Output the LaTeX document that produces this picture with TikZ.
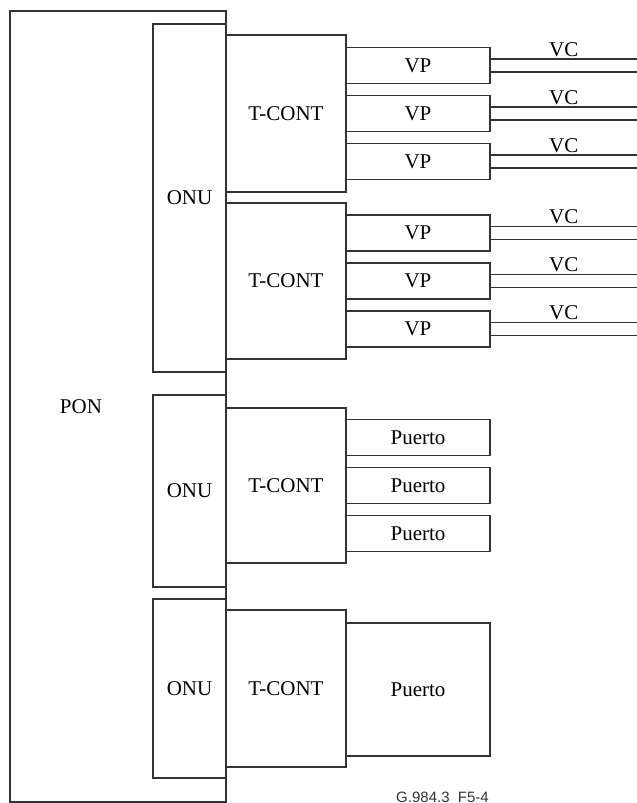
\documentclass[tikz,border=0pt]{standalone}
\usepackage{fontspec}
\setmainfont{Liberation Serif}
\newfontfamily\refsans{Liberation Sans}
\tikzset{
	box/.style={draw=black!80,fill=white,line width=1.2pt,inner sep=0pt},
	onu/.style={box,minimum width=73pt,minimum height=#1},
	tcont/.style={box,minimum width=120pt,minimum height=#1},
	port/.style={box,minimum width=144pt,minimum height=#1},
	vc/.style={draw=black!80,line width=1.2pt}
}
\begin{document}
\begin{tikzpicture}[x=1pt,y=-1pt,font=\fontsize{21}{25}\selectfont]
	\useasboundingbox (0,0) rectangle (637,803);
	% PON
	\node[box,minimum width=216pt,minimum height=791pt] (pon) at (118,406.5) {};
	\node (ponlabel) at (81,407) {PON};
	% ONU
	\node[onu=348pt] (onua) at (189.5,198) {ONU};
	\node[onu=192pt] (onub) at (189.5,491) {ONU};
	\node[onu=179pt] (onuc) at (189.5,688.5) {ONU};
	% T-CONT
	\node[tcont=157pt] (tconta) at (286,113.5) {T-CONT};
	\node[tcont=156pt] (tcontb) at (286,281) {T-CONT};
	\node[tcont=155pt] (tcontc) at (286,485.5) {T-CONT};
	\node[tcont=157pt] (tcontd) at (286,688.5) {T-CONT};
	% VP and VC
	\foreach \t/\y in {a/113.5,b/281}{
		\foreach \k/\d in {1/-48,2/0,3/48}{
			\node[port=36pt] (vp\t\k) at (418,\y+\d) {VP};
			\coordinate (vcend\t\k) at (637,\y+\d);
			\draw[vc] ([yshift=6.5pt]vp\t\k.east) -- node[above,inner sep=2pt] (vclabel\t\k) {VC} ([yshift=6.5pt]vcend\t\k);
			\draw[vc] ([yshift=-6.5pt]vp\t\k.east) -- ([yshift=-6.5pt]vcend\t\k);
		}
	}
	% Puerto
	\foreach \k/\d in {1/-48,2/0,3/48}
		\node[port=36pt] (puerto\k) at (418,485.5+\d) {Puerto};
	\node[port=133pt] (puerto4) at (418,689.5) {Puerto};
	% figure reference
	\node[font=\refsans\fontsize{15}{18}\selectfont,text=black!80,anchor=base east,inner sep=0pt] (figref) at (489,802) {G.984.3\_F5-4};
\end{tikzpicture}
\end{document}
